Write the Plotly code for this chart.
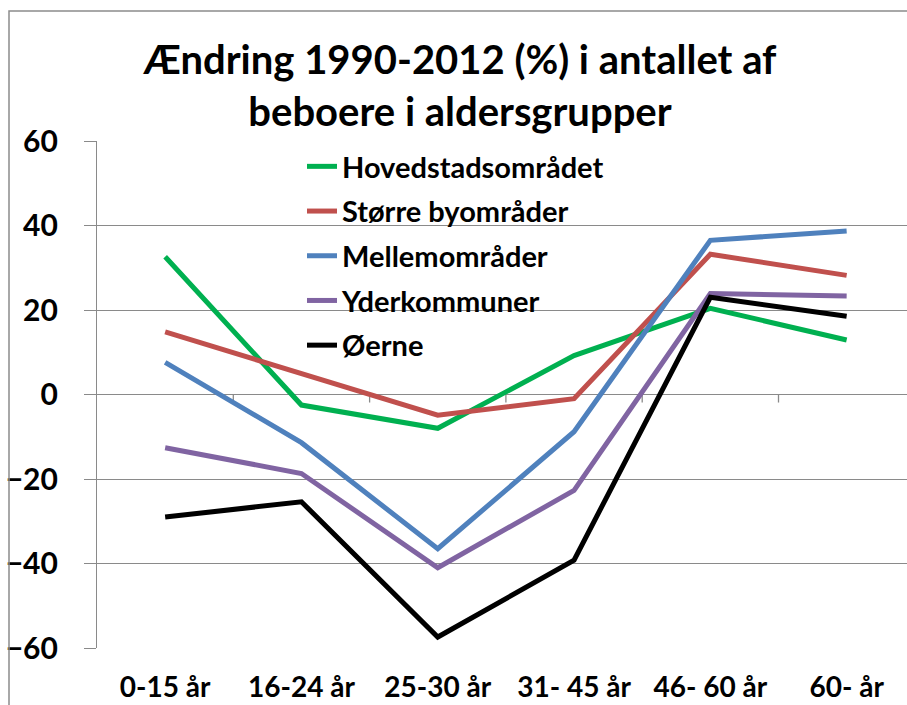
import plotly.graph_objects as go

categories = ["0-15 år", "16-24 år", "25-30 år", "31- 45 år", "46- 60 år", "60- år"]
series_names = ["Hovedstadsområdet", "Større byområder", "Mellemområder", "Yderkommuner", "Øerne"]
hovedstad = [32.6, -2.5, -8.0, 9.2, 20.4, 12.9]
storre = [14.8, 5.0, -4.9, -1.0, 33.2, 28.2]
mellem = [7.6, -11.4, -36.5, -8.8, 36.5, 38.7]
yder = [-12.6, -18.7, -41.0, -22.7, 23.9, 23.3]
oerne = [-29.0, -25.4, -57.4, -39.2, 23.0, 18.5]
colors = ["#00B050", "#C0504D", "#4F81BD", "#8064A2", "#000000"]
y_ticks = [-60, -40, -20, 0, 20, 40, 60]
title_text = "Ændring 1990-2012 (%) i antallet af<br>beboere i aldersgrupper"

FONT = "Lato, 'Open Sans', sans-serif"
GRID = "#8a8a8a"

W, H = 907, 705
L, R, T, B = 97, 0, 141, 57
pw, ph = W - L - R, H - T - B

fig = go.Figure()
for name, vals, col in zip(series_names, [hovedstad, storre, mellem, yder, oerne], colors):
    fig.add_trace(go.Scatter(
        x=list(range(len(categories))), y=vals, mode="lines", name=name,
        legendgroup=name,
        line=dict(color=col, width=5),
    ))

shapes = []
# small tick marks on the zero line between categories
for i in range(len(categories)):
    shapes.append(dict(type="line", xref="x", yref="y", x0=i + 0.5, x1=i + 0.5,
                       y0=0, y1=-1.9, line=dict(color=GRID, width=1.3), layer="below"))
# outer chart border
shapes.append(dict(type="rect", xref="paper", yref="paper",
                   x0=(9 - L) / pw, x1=1.2, y0=-0.3, y1=(H - B - 11) / ph,
                   line=dict(color="#8c8c8c", width=1.5), fillcolor="rgba(0,0,0,0)"))

fig.update_layout(
    width=W, height=H,
    margin=dict(l=L, r=R, t=T, b=B, autoexpand=False),
    paper_bgcolor="white", plot_bgcolor="white",
    title=dict(text=title_text, x=460 / W, xanchor="center", xref="container",
               y=1 - 74 / H, yanchor="top", yref="container",
               font=dict(family=FONT, size=40, color="#000000", weight="bold")),
    showlegend=True,
    legend=dict(x=(302 - L) / pw, xanchor="left", y=(H - B - 141) / ph, yanchor="top",
                font=dict(family=FONT, size=29, color="#000000", weight="bold"),
                bgcolor="rgba(0,0,0,0)", tracegroupgap=4, borderwidth=0),
    xaxis=dict(tickmode="array", tickvals=list(range(len(categories))), ticktext=categories,
               range=[-0.5, -0.5 + pw / 136.3], showgrid=False, zeroline=False,
               showline=False, ticks="", ticklabelstandoff=20, automargin=False,
               tickfont=dict(family=FONT, size=28, color="#000000", weight="bold")),
    yaxis=dict(range=[-60, 60], tickvals=y_ticks, showgrid=True, gridcolor=GRID, gridwidth=1.3,
               zeroline=False, showline=True, linecolor=GRID, linewidth=1.3,
               ticks="outside", ticklen=12, tickcolor=GRID, tickwidth=1.3,
               ticklabelstandoff=20, automargin=False,
               tickfont=dict(family=FONT, size=30, color="#000000", weight="bold")),
    shapes=shapes,
)

fig.write_html("out.html", config={"displayModeBar": False},
               post_script="document.body.style.margin='0';document.body.style.overflow='hidden';")
